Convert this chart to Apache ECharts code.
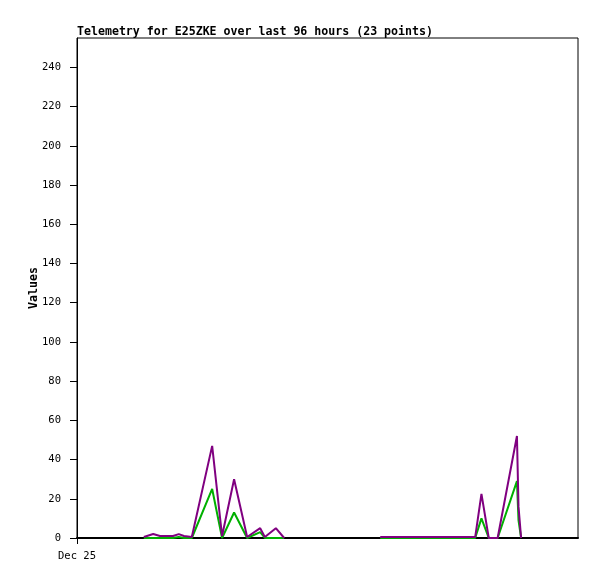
<!DOCTYPE html>
<html><head><meta charset="utf-8">
<script src="https://cdn.jsdelivr.net/npm/echarts@6/dist/echarts.min.js"></script>
<style>html,body{margin:0;padding:0;background:#fff}#c{width:597px;height:579px}</style>
</head><body><div id="c"></div>
<script>
const titleText = 'Telemetry for E25ZKE over last 96 hours (23 points)';
const hours =  [12.8,14.6,15.9,17.4,18.4,19.5,20.5,22.0,25.9,27.8,30.1,32.6,35.1,36.0,38.1,39.7,null,58.1,76.3,77.5,78.9,80.6,84.3,84.6,85.1];
const purpleVals = [0.5,2,1,1,1,2,1,0.5,47,1,30,0.5,5,0.5,5,0,null,0.5,0.5,22.5,0,0,52,16,0];
const greenVals =  [0,0,0,0,0,0.5,0,0,25,0,13,0,3,0,0,0,null,0,0,10,0,0,29,9,0];
const xTickLabels = ['Dec 25'];
const yTicks = [0,20,40,60,80,100,120,140,160,180,200,220,240];

function pairs(vals){ return hours.map((h,i)=> h===null ? [48,null] : [h, vals[i]]); }
const font = '"DejaVu Sans Mono", monospace';
const chart = echarts.init(document.getElementById('c'));
chart.setOption({
  animation:false,
  backgroundColor:'#fff',
  title:{text:titleText,left:77,top:26,padding:0,textStyle:{fontFamily:font,fontSize:11.6,fontWeight:'bold',color:'#000'}},
  grid:{left:77,right:19,top:38,bottom:41,show:true,borderColor:'#000',borderWidth:1,backgroundColor:'transparent'},
  xAxis:{type:'value',min:0,max:96,interval:96,
    axisLine:{lineStyle:{color:'#000',width:2}},
    axisTick:{show:true,length:6,lineStyle:{color:'#000'},customValues:[0]},
    axisLabel:{color:'#000',fontFamily:font,fontSize:10.5,margin:13,customValues:[0],formatter:v=> v===0?xTickLabels[0]:''},
    splitLine:{show:false}},
  yAxis:{type:'value',min:0,max:255,interval:20,name:'Values',nameLocation:'middle',nameGap:37,nameMoveOverlap:false,
    nameTextStyle:{fontFamily:font,fontSize:11.6,fontWeight:'bold',color:'#000'},
    axisLine:{show:true,lineStyle:{color:'#000'}},
    axisTick:{show:true,length:7,lineStyle:{color:'#000'},customValues:yTicks},
    axisLabel:{color:'#000',fontFamily:font,fontSize:10.5,margin:16,customValues:yTicks},
    splitLine:{show:false}},
  series:[
    {type:'line',data:pairs(greenVals),showSymbol:false,connectNulls:false,lineStyle:{color:'#00b000',width:2},z:2},
    {type:'line',data:pairs(purpleVals),showSymbol:false,connectNulls:false,lineStyle:{color:'#800080',width:2},z:3}
  ]
});
</script></body></html>
